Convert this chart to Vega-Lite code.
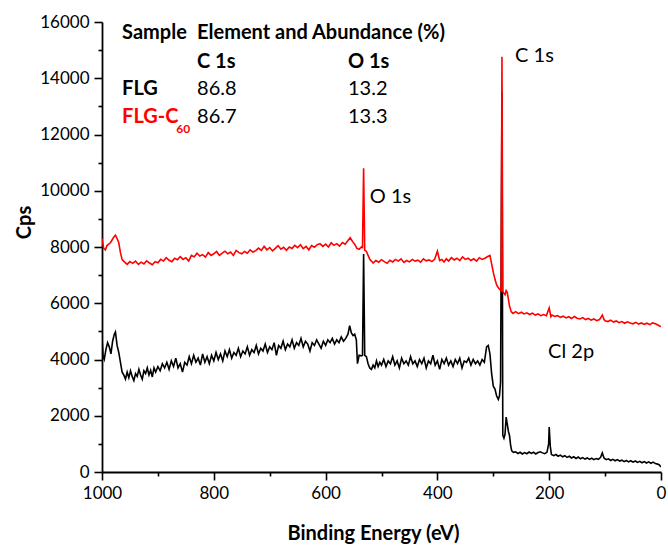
{
  "$schema": "https://vega.github.io/schema/vega-lite/v6.json",
  "autosize": {"type": "none"},
  "padding": {"left": 102, "top": 22, "right": 7, "bottom": 73},
  "width": 559,
  "height": 450,
  "background": "white",
  "config": {"view": {"stroke": null}, "font": "Lato"},
  "datasets": {
    "flg": [
      {"be":1000,"cps":4780},{"be":998,"cps":4100},{"be":996,"cps":4000},{"be":993,"cps":4350},{"be":990,"cps":4600},{"be":987,"cps":4450},{"be":984,"cps":4200},{"be":981,"cps":4650},{"be":978,"cps":4900},{"be":976,"cps":4980},{"be":973,"cps":4500},{"be":970,"cps":4250},{"be":967,"cps":3900},{"be":964,"cps":3550},{"be":961,"cps":3450},{"be":958,"cps":3300},{"be":955,"cps":3550},{"be":952,"cps":3350},{"be":949,"cps":3600},{"be":946,"cps":3400},{"be":943,"cps":3250},{"be":940,"cps":3500},{"be":937,"cps":3400},{"be":934,"cps":3650},{"be":931,"cps":3450},{"be":928,"cps":3300},{"be":925,"cps":3600},{"be":922,"cps":3500},{"be":919,"cps":3700},{"be":916,"cps":3450},{"be":913,"cps":3620},{"be":910,"cps":3380},{"be":907,"cps":3700},{"be":904,"cps":3550},{"be":900,"cps":3750},{"be":896,"cps":3600},{"be":892,"cps":3850},{"be":888,"cps":3700},{"be":884,"cps":3900},{"be":880,"cps":3650},{"be":876,"cps":3950},{"be":872,"cps":3750},{"be":868,"cps":4050},{"be":864,"cps":3700},{"be":860,"cps":3850},{"be":856,"cps":3550},{"be":852,"cps":3900},{"be":848,"cps":3800},{"be":844,"cps":4100},{"be":840,"cps":3850},{"be":836,"cps":4150},{"be":832,"cps":3900},{"be":828,"cps":4050},{"be":824,"cps":3800},{"be":820,"cps":4200},{"be":816,"cps":3900},{"be":812,"cps":4100},{"be":808,"cps":3850},{"be":804,"cps":4150},{"be":800,"cps":3950},{"be":796,"cps":4250},{"be":792,"cps":4000},{"be":788,"cps":4200},{"be":784,"cps":3950},{"be":780,"cps":4300},{"be":776,"cps":4100},{"be":772,"cps":4350},{"be":768,"cps":4050},{"be":764,"cps":4250},{"be":760,"cps":4150},{"be":756,"cps":4400},{"be":752,"cps":4100},{"be":748,"cps":4300},{"be":744,"cps":4200},{"be":740,"cps":4450},{"be":736,"cps":4150},{"be":732,"cps":4350},{"be":728,"cps":4250},{"be":724,"cps":4500},{"be":720,"cps":4200},{"be":716,"cps":4400},{"be":712,"cps":4300},{"be":708,"cps":4550},{"be":704,"cps":4250},{"be":700,"cps":4450},{"be":696,"cps":4350},{"be":692,"cps":4600},{"be":688,"cps":4150},{"be":684,"cps":4500},{"be":680,"cps":4400},{"be":676,"cps":4650},{"be":672,"cps":4350},{"be":668,"cps":4550},{"be":664,"cps":4450},{"be":660,"cps":4700},{"be":656,"cps":4400},{"be":652,"cps":4600},{"be":648,"cps":4500},{"be":644,"cps":4750},{"be":640,"cps":4450},{"be":636,"cps":4650},{"be":632,"cps":4550},{"be":628,"cps":4300},{"be":624,"cps":4600},{"be":620,"cps":4500},{"be":616,"cps":4700},{"be":612,"cps":4550},{"be":608,"cps":4400},{"be":604,"cps":4650},{"be":600,"cps":4500},{"be":596,"cps":4700},{"be":592,"cps":4600},{"be":588,"cps":4750},{"be":584,"cps":4550},{"be":580,"cps":4700},{"be":576,"cps":4600},{"be":572,"cps":4800},{"be":568,"cps":4650},{"be":564,"cps":4750},{"be":560,"cps":4900},{"be":557,"cps":5200},{"be":554,"cps":4950},{"be":551,"cps":4850},{"be":548,"cps":4900},{"be":545,"cps":4700},{"be":543,"cps":3850},{"be":540,"cps":4150},{"be":536,"cps":4130},{"be":534,"cps":4150},{"be":532,"cps":7750},{"be":530,"cps":4150},{"be":527,"cps":4100},{"be":524,"cps":3850},{"be":521,"cps":3700},{"be":518,"cps":3650},{"be":515,"cps":3800},{"be":512,"cps":3700},{"be":509,"cps":3950},{"be":506,"cps":3750},{"be":503,"cps":3900},{"be":500,"cps":3800},{"be":496,"cps":4000},{"be":492,"cps":3750},{"be":488,"cps":3950},{"be":484,"cps":3850},{"be":480,"cps":4100},{"be":476,"cps":3800},{"be":472,"cps":3950},{"be":468,"cps":3700},{"be":464,"cps":4050},{"be":460,"cps":3850},{"be":456,"cps":3950},{"be":452,"cps":3800},{"be":448,"cps":4100},{"be":444,"cps":3850},{"be":440,"cps":3950},{"be":436,"cps":3750},{"be":432,"cps":4000},{"be":428,"cps":3850},{"be":424,"cps":4050},{"be":420,"cps":3700},{"be":416,"cps":3950},{"be":412,"cps":3850},{"be":408,"cps":4150},{"be":404,"cps":3800},{"be":400,"cps":3950},{"be":396,"cps":3650},{"be":392,"cps":4000},{"be":388,"cps":3850},{"be":384,"cps":4050},{"be":380,"cps":3800},{"be":376,"cps":3950},{"be":372,"cps":3750},{"be":368,"cps":4000},{"be":364,"cps":3850},{"be":360,"cps":4050},{"be":356,"cps":3700},{"be":352,"cps":3950},{"be":348,"cps":3900},{"be":344,"cps":4050},{"be":340,"cps":3800},{"be":336,"cps":4000},{"be":332,"cps":3850},{"be":328,"cps":3950},{"be":324,"cps":3800},{"be":320,"cps":4000},{"be":316,"cps":3900},{"be":312,"cps":4450},{"be":309,"cps":4500},{"be":306,"cps":4200},{"be":303,"cps":3500},{"be":300,"cps":3050},{"be":297,"cps":2950},{"be":294,"cps":2700},{"be":291,"cps":2580},{"be":289,"cps":2700},{"be":287,"cps":3200},{"be":284.5,"cps":13500},{"be":283,"cps":1300},{"be":281,"cps":1200},{"be":279,"cps":1350},{"be":277,"cps":1950},{"be":275,"cps":1700},{"be":273,"cps":1450},{"be":271,"cps":1300},{"be":269,"cps":950},{"be":267,"cps":750},{"be":264,"cps":700},{"be":260,"cps":720},{"be":256,"cps":660},{"be":252,"cps":700},{"be":248,"cps":640},{"be":244,"cps":690},{"be":240,"cps":650},{"be":236,"cps":710},{"be":232,"cps":660},{"be":228,"cps":700},{"be":224,"cps":640},{"be":220,"cps":690},{"be":216,"cps":720},{"be":212,"cps":680},{"be":208,"cps":650},{"be":204,"cps":700},{"be":201,"cps":1000},{"be":200,"cps":1600},{"be":198,"cps":900},{"be":196,"cps":620},{"be":192,"cps":580},{"be":188,"cps":620},{"be":184,"cps":560},{"be":180,"cps":600},{"be":176,"cps":540},{"be":172,"cps":580},{"be":168,"cps":520},{"be":164,"cps":560},{"be":160,"cps":500},{"be":156,"cps":540},{"be":152,"cps":480},{"be":148,"cps":530},{"be":144,"cps":470},{"be":140,"cps":510},{"be":136,"cps":460},{"be":132,"cps":500},{"be":128,"cps":450},{"be":124,"cps":490},{"be":120,"cps":440},{"be":116,"cps":480},{"be":112,"cps":450},{"be":108,"cps":520},{"be":105,"cps":680},{"be":102,"cps":500},{"be":98,"cps":440},{"be":94,"cps":470},{"be":90,"cps":410},{"be":86,"cps":450},{"be":82,"cps":400},{"be":78,"cps":440},{"be":74,"cps":390},{"be":70,"cps":420},{"be":66,"cps":370},{"be":62,"cps":410},{"be":58,"cps":360},{"be":54,"cps":400},{"be":50,"cps":350},{"be":46,"cps":390},{"be":42,"cps":340},{"be":38,"cps":380},{"be":34,"cps":330},{"be":30,"cps":370},{"be":26,"cps":320},{"be":22,"cps":360},{"be":18,"cps":310},{"be":14,"cps":350},{"be":10,"cps":300},{"be":6,"cps":280},{"be":3,"cps":250},{"be":0,"cps":180}
    ],
    "flgc60": [
      {"be":1000,"cps":8300},{"be":997,"cps":7950},{"be":994,"cps":7900},{"be":991,"cps":8050},{"be":988,"cps":8100},{"be":985,"cps":8150},{"be":982,"cps":8250},{"be":979,"cps":8350},{"be":976,"cps":8420},{"be":973,"cps":8300},{"be":970,"cps":8150},{"be":967,"cps":7800},{"be":964,"cps":7550},{"be":960,"cps":7470},{"be":955,"cps":7380},{"be":950,"cps":7480},{"be":945,"cps":7420},{"be":940,"cps":7500},{"be":935,"cps":7380},{"be":930,"cps":7460},{"be":925,"cps":7400},{"be":920,"cps":7510},{"be":915,"cps":7430},{"be":910,"cps":7370},{"be":905,"cps":7480},{"be":900,"cps":7440},{"be":895,"cps":7560},{"be":890,"cps":7500},{"be":885,"cps":7620},{"be":880,"cps":7530},{"be":875,"cps":7480},{"be":870,"cps":7600},{"be":865,"cps":7550},{"be":860,"cps":7660},{"be":855,"cps":7560},{"be":850,"cps":7620},{"be":845,"cps":7500},{"be":840,"cps":7700},{"be":835,"cps":7650},{"be":830,"cps":7780},{"be":825,"cps":7680},{"be":820,"cps":7730},{"be":815,"cps":7640},{"be":810,"cps":7800},{"be":805,"cps":7700},{"be":800,"cps":7760},{"be":795,"cps":7840},{"be":790,"cps":7700},{"be":785,"cps":7780},{"be":780,"cps":7850},{"be":775,"cps":7760},{"be":770,"cps":7820},{"be":765,"cps":7700},{"be":760,"cps":7880},{"be":755,"cps":7800},{"be":750,"cps":7760},{"be":745,"cps":7840},{"be":740,"cps":7780},{"be":735,"cps":7900},{"be":730,"cps":7820},{"be":725,"cps":7870},{"be":720,"cps":7960},{"be":715,"cps":7880},{"be":710,"cps":8020},{"be":705,"cps":7900},{"be":700,"cps":7980},{"be":695,"cps":7860},{"be":690,"cps":7950},{"be":685,"cps":8050},{"be":680,"cps":7920},{"be":675,"cps":7990},{"be":670,"cps":7880},{"be":665,"cps":8000},{"be":660,"cps":7950},{"be":655,"cps":8060},{"be":650,"cps":7980},{"be":645,"cps":8080},{"be":640,"cps":7940},{"be":635,"cps":8020},{"be":630,"cps":7900},{"be":625,"cps":8050},{"be":620,"cps":7990},{"be":615,"cps":8080},{"be":610,"cps":8120},{"be":605,"cps":8020},{"be":600,"cps":8100},{"be":595,"cps":8000},{"be":590,"cps":8150},{"be":585,"cps":8060},{"be":580,"cps":8120},{"be":575,"cps":8030},{"be":570,"cps":8160},{"be":565,"cps":8100},{"be":560,"cps":8230},{"be":556,"cps":8330},{"be":552,"cps":8200},{"be":548,"cps":8100},{"be":544,"cps":7950},{"be":540,"cps":7920},{"be":536,"cps":8000},{"be":534,"cps":7980},{"be":532,"cps":10800},{"be":530,"cps":7880},{"be":527,"cps":7850},{"be":524,"cps":7700},{"be":521,"cps":7560},{"be":518,"cps":7500},{"be":515,"cps":7430},{"be":510,"cps":7520},{"be":505,"cps":7460},{"be":500,"cps":7550},{"be":495,"cps":7480},{"be":490,"cps":7420},{"be":485,"cps":7530},{"be":480,"cps":7470},{"be":475,"cps":7560},{"be":470,"cps":7500},{"be":465,"cps":7580},{"be":460,"cps":7450},{"be":455,"cps":7520},{"be":450,"cps":7470},{"be":445,"cps":7560},{"be":440,"cps":7500},{"be":435,"cps":7530},{"be":430,"cps":7460},{"be":425,"cps":7580},{"be":420,"cps":7510},{"be":415,"cps":7540},{"be":410,"cps":7480},{"be":405,"cps":7560},{"be":400,"cps":7850},{"be":396,"cps":7520},{"be":392,"cps":7560},{"be":388,"cps":7470},{"be":384,"cps":7580},{"be":380,"cps":7500},{"be":375,"cps":7620},{"be":370,"cps":7540},{"be":365,"cps":7600},{"be":360,"cps":7520},{"be":355,"cps":7650},{"be":350,"cps":7560},{"be":345,"cps":7600},{"be":340,"cps":7520},{"be":335,"cps":7580},{"be":330,"cps":7500},{"be":325,"cps":7620},{"be":320,"cps":7560},{"be":315,"cps":7600},{"be":310,"cps":7660},{"be":306,"cps":7700},{"be":303,"cps":7400},{"be":300,"cps":7100},{"be":297,"cps":6850},{"be":294,"cps":6650},{"be":291,"cps":6550},{"be":288,"cps":6480},{"be":286,"cps":6450},{"be":284.5,"cps":14760},{"be":283,"cps":6420},{"be":281,"cps":6350},{"be":279,"cps":6300},{"be":277,"cps":6450},{"be":275,"cps":6380},{"be":273,"cps":6150},{"be":271,"cps":5900},{"be":268,"cps":5700},{"be":265,"cps":5640},{"be":260,"cps":5700},{"be":255,"cps":5630},{"be":250,"cps":5680},{"be":245,"cps":5620},{"be":240,"cps":5660},{"be":235,"cps":5600},{"be":230,"cps":5650},{"be":225,"cps":5580},{"be":220,"cps":5620},{"be":215,"cps":5560},{"be":210,"cps":5600},{"be":205,"cps":5560},{"be":200,"cps":5830},{"be":197,"cps":5520},{"be":195,"cps":5580},{"be":190,"cps":5530},{"be":185,"cps":5560},{"be":180,"cps":5500},{"be":175,"cps":5540},{"be":170,"cps":5480},{"be":165,"cps":5520},{"be":160,"cps":5460},{"be":155,"cps":5530},{"be":150,"cps":5470},{"be":145,"cps":5440},{"be":140,"cps":5490},{"be":135,"cps":5420},{"be":130,"cps":5460},{"be":125,"cps":5400},{"be":120,"cps":5440},{"be":115,"cps":5380},{"be":110,"cps":5420},{"be":105,"cps":5580},{"be":102,"cps":5420},{"be":100,"cps":5380},{"be":95,"cps":5350},{"be":90,"cps":5400},{"be":85,"cps":5330},{"be":80,"cps":5370},{"be":75,"cps":5310},{"be":70,"cps":5350},{"be":65,"cps":5290},{"be":60,"cps":5340},{"be":55,"cps":5300},{"be":50,"cps":5270},{"be":45,"cps":5320},{"be":40,"cps":5260},{"be":35,"cps":5300},{"be":30,"cps":5250},{"be":25,"cps":5290},{"be":20,"cps":5240},{"be":15,"cps":5300},{"be":10,"cps":5270},{"be":5,"cps":5220},{"be":0,"cps":5170}
    ],
    "boldText": [
      {"be":964,"cps":15600,"label":"Sample"},
      {"be":830,"cps":15600,"label":"Element and Abundance (%)"},
      {"be":830,"cps":14580,"label":"C 1s"},
      {"be":560,"cps":14580,"label":"O 1s"},
      {"be":964,"cps":13620,"label":"FLG"}
    ],
    "plainText": [
      {"be":830,"cps":13620,"label":"86.8"},
      {"be":560,"cps":13620,"label":"13.2"},
      {"be":830,"cps":12620,"label":"86.7"},
      {"be":560,"cps":12620,"label":"13.3"},
      {"be":261,"cps":14800,"label":"C 1s"},
      {"be":521,"cps":9780,"label":"O 1s"},
      {"be":202,"cps":4270,"label":"Cl 2p"}
    ],
    "redText": [
      {"be":964,"cps":12620,"label":"FLG-C"}
    ],
    "redSub": [
      {"be":867,"cps":12180,"label":"60"}
    ]
  },
  "encoding": {
    "x": {
      "field": "be", "type": "quantitative",
      "scale": {"domain": [0, 1000], "reverse": true, "nice": false, "zero": false},
      "axis": {
        "title": "Binding Energy (eV)",
        "values": [0,100,200,300,400,500,600,700,800,900,1000],
        "labelExpr": "datum.value % 200 === 0 ? datum.label : ''",
        "format": "d",
        "labelFlush": false,
        "labelOverlap": false,
        "tickSize": {"condition": {"test": "datum.value % 200 !== 0", "value": 4}, "value": 8},
        "tickColor": "black", "tickWidth": 1.6,
        "domainColor": "black", "domainWidth": 1.8,
        "labelFont": "Lato", "labelFontSize": 17, "labelColor": "black", "labelPadding": 5,
        "titleFont": "Lato", "titleFontSize": 20, "titleFontWeight": "bold", "titleColor": "black",
        "titleX": 271, "titleY": 61, "titleBaseline": "middle", "titleAlign": "center",
        "grid": false
      }
    },
    "y": {
      "field": "cps", "type": "quantitative",
      "scale": {"domain": [0, 16000], "nice": false},
      "axis": {
        "title": "Cps",
        "values": [0,1000,2000,3000,4000,5000,6000,7000,8000,9000,10000,11000,12000,13000,14000,15000,16000],
        "labelExpr": "datum.value % 2000 === 0 ? format(datum.value, 'd') : ''",
        "labelFlush": false,
        "labelOverlap": false,
        "tickSize": {"condition": {"test": "datum.value % 2000 !== 0", "value": 4}, "value": 8},
        "tickColor": "black", "tickWidth": 1.6,
        "domainColor": "black", "domainWidth": 1.8,
        "labelFont": "Lato", "labelFontSize": 17, "labelColor": "black", "labelPadding": 5,
        "titleFont": "Lato", "titleFontSize": 20, "titleFontWeight": "bold", "titleColor": "black",
        "titleX": -78, "titleY": 200, "titleBaseline": "middle", "titleAlign": "center", "titleAngle": -90,
        "grid": false
      }
    }
  },
  "layer": [
    {"data": {"name": "flg"}, "mark": {"type": "line", "color": "black", "strokeWidth": 1.6, "clip": true}},
    {"data": {"name": "flgc60"}, "mark": {"type": "line", "color": "#ff0000", "strokeWidth": 1.6, "clip": true}},
    {"data": {"name": "boldText"}, "mark": {"type": "text", "align": "left", "baseline": "middle", "font": "Lato", "fontSize": 20, "fontWeight": "bold", "color": "black"}, "encoding": {"text": {"field": "label"}}},
    {"data": {"name": "plainText"}, "mark": {"type": "text", "align": "left", "baseline": "middle", "font": "Lato", "fontSize": 20, "color": "black"}, "encoding": {"text": {"field": "label"}}},
    {"data": {"name": "redText"}, "mark": {"type": "text", "align": "left", "baseline": "middle", "font": "Lato", "fontSize": 20, "fontWeight": "bold", "color": "#ff0000"}, "encoding": {"text": {"field": "label"}}},
    {"data": {"name": "redSub"}, "mark": {"type": "text", "align": "left", "baseline": "middle", "font": "Lato", "fontSize": 12, "fontWeight": "bold", "color": "#ff0000"}, "encoding": {"text": {"field": "label"}}}
  ]
}
